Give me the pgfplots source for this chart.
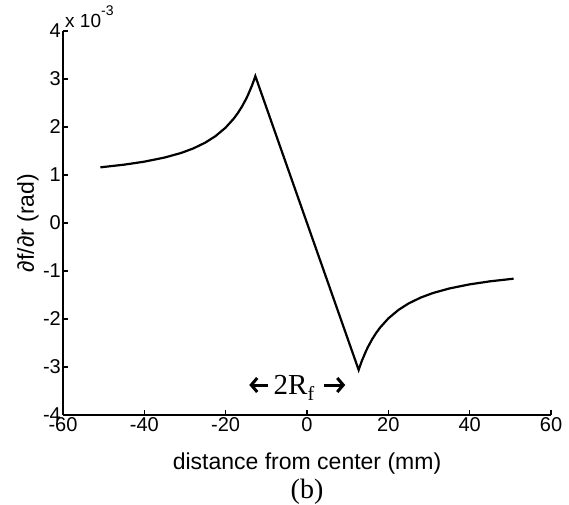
\documentclass[border=0pt]{standalone}
\usepackage{fontspec}
\setmainfont{Liberation Sans}
\newfontfamily\serif{Liberation Serif}
\usepackage{pgfplots}
\pgfplotsset{compat=1.18}
\usetikzlibrary{arrows.meta}
\begin{document}
\begin{tikzpicture}
\useasboundingbox (0,0) rectangle (569pt,504pt);
\begin{axis}[
  at={(63pt,89pt)}, anchor=south west,
  width=488pt, height=384pt, scale only axis,
  xmin=-60, xmax=60, ymin=-4, ymax=4,
  axis x line*=bottom, axis y line*=left,
  axis line style={-, line width=1.9pt},
  tick align=inside, major tick length=5pt,
  tick style={line width=1.6pt, black},
  xtick={-60,-40,-20,0,20,40,60},
  xticklabels={-60,-40,-20,0,20,40,60},
  ytick={-4,-3,-2,-1,0,1,2,3,4},
  yticklabels={-4,-3,-2,-1,0,1,2,3,4},
  ticklabel style={font=\fontsize{20}{22}\selectfont},
  xticklabel style={inner sep=1pt, yshift=-1pt},
  yticklabel style={inner sep=1pt, xshift=-1pt},
  xlabel={distance from center (mm)},
  xlabel style={font=\fontsize{23}{26}\selectfont, at={(axis description cs:0.5,0)}, anchor=base, yshift=-54pt},
  ylabel={∂f/∂r (rad)},
  ylabel style={font=\fontsize{23}{26}\selectfont, at={(axis description cs:-0.072,0.5)}, anchor=center},
  clip=false,
]
\addplot[black, line width=2.2pt] coordinates {
(-50.8,1.160) (-45,1.215) (-40,1.278) (-35,1.364) (-31,1.458) (-28,1.552) (-25,1.675) (-22.5,1.810) (-20,1.988) (-18,2.176) (-17,2.291) (-16,2.425) (-15,2.581) (-14.5,2.669) (-13.5,2.870) (-13,2.986) (-12.7,3.060)
(12.7,-3.060) (13,-2.986) (13.5,-2.870) (14.5,-2.669) (15,-2.581) (16,-2.425) (17,-2.291) (18,-2.176) (20,-1.988) (22.5,-1.810) (25,-1.675) (28,-1.552) (31,-1.458) (35,-1.364) (40,-1.278) (45,-1.215) (50.8,-1.160)
};
\node[anchor=base west, inner sep=0pt, font=\fontsize{19}{22}\selectfont] at (axis description cs:0,1) [xshift=2pt, yshift=4pt] {x 10\raisebox{0.6em}{\fontsize{14}{15}\selectfont -3}};
\node[font=\serif\fontsize{29}{32}\selectfont, inner sep=0pt, anchor=center] at (axis cs:-3.2,-3.44) {2R\raisebox{-0.22em}{\fontsize{20}{21}\selectfont f}};
\draw[line width=3pt, -{Straight Barb[length=6pt,width=14pt]}] (axis cs:-9.6,-3.375) -- (axis cs:-14.2,-3.375);
\draw[line width=3pt, -{Straight Barb[length=6pt,width=14pt]}] (axis cs:4.3,-3.375) -- (axis cs:9.4,-3.375);
\end{axis}
\node[font=\serif\fontsize{28}{30}\selectfont, anchor=base] at (307pt,6pt) {(b)};
\end{tikzpicture}
\end{document}
